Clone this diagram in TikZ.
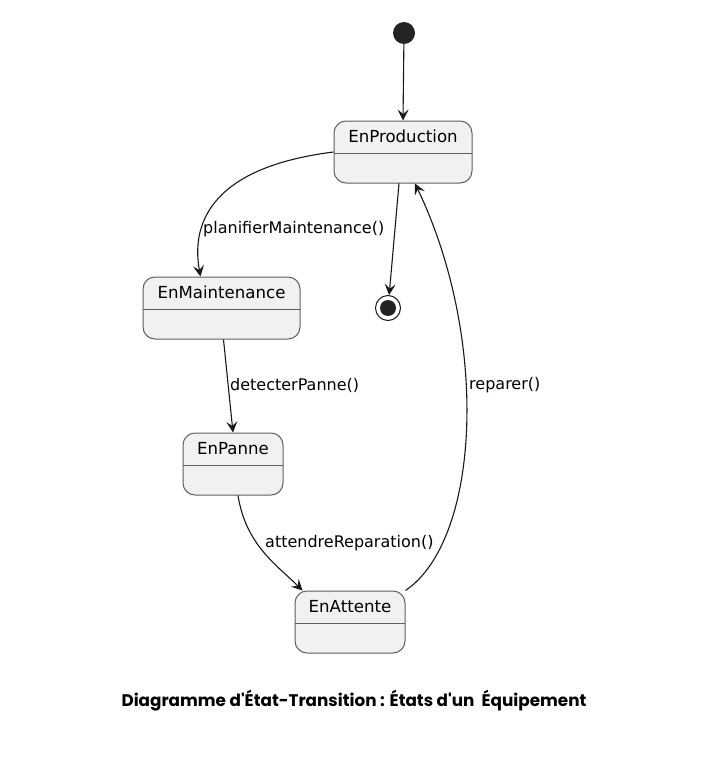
\documentclass[tikz,border=0pt]{standalone}
\usepackage{fontspec}
\setmainfont{DejaVu Sans}
\newfontfamily\capfont{Poppins}
\usetikzlibrary{arrows.meta}
\definecolor{stfill}{HTML}{F1F1F1}
\definecolor{stline}{HTML}{5F5F5F}
\definecolor{edge}{HTML}{181818}
\begin{document}
\begin{tikzpicture}[x=1pt,y=-1pt,
  state/.style={draw=stline, fill=stfill, line width=1pt, rounded corners=12pt,
    minimum height=62pt, inner sep=0pt,
    path picture={\draw[stline, line width=1pt]
      ([yshift=-32pt]path picture bounding box.north west) --
      ([yshift=-32pt]path picture bounding box.north east);},
    label={[font=\fontsize{16.6}{19}\selectfont, anchor=base, yshift=-22pt, inner sep=0pt]north:#1}},
  trans/.style={draw=edge, line width=1.1pt, -{Stealth[length=11pt,width=11pt,inset=4.5pt]}},
  lbl/.style={font=\fontsize{16}{19}\selectfont, anchor=west, inner sep=0pt}]
\useasboundingbox (0,0) rectangle (722,760);
\node [circle, fill=edge!95, minimum size=22pt, inner sep=0pt] (init) at (404,33) {};
\node [state=EnProduction, minimum width=138pt] (prod) at (403,152) {};
\node [state=EnMaintenance, minimum width=157pt] (maint) at (221.5,308) {};
\node [state=EnPanne, minimum width=100pt] (panne) at (233,464) {};
\node [state=EnAttente, minimum width=110pt] (attente) at (350,622) {};
\node [circle, draw=edge, line width=1pt, minimum size=25pt, inner sep=0pt,
  path picture={\fill[edge!95] (path picture bounding box.center) circle (8pt);}] (fin) at (388,308) {};
\draw [trans] (init) -- (prod.north);
\draw [trans] (prod.west) .. controls +(-120,15) and +(-10,-55) .. ([xshift=-21pt]maint.north);
\draw [trans] ([xshift=-4pt]prod.south) -- (fin);
\draw [trans] ([xshift=2pt]maint.south) -- (panne.north);
\draw [trans] ([xshift=5pt]panne.south) .. controls +(8,50) and +(-25,-25) .. ([xshift=8pt]attente.north west);
\draw [trans] (attente.north east) .. controls (480,540) and (490,340) .. ([xshift=12pt]prod.south);
\node [lbl] (lplan) at (203,229) {planifierMaintenance()};
\node [lbl] (ldetect) at (230,385) {detecterPanne()};
\node [lbl] (lattend) at (265,543) {attendreReparation()};
\node [lbl] (lrepar) at (469,385) {reparer()};
\node [font=\capfont\bfseries\fontsize{16.8}{20}\selectfont] (caption) at (354,701) {Diagramme d'État-Transition : États d'un~ Équipement};
\end{tikzpicture}
\end{document}
